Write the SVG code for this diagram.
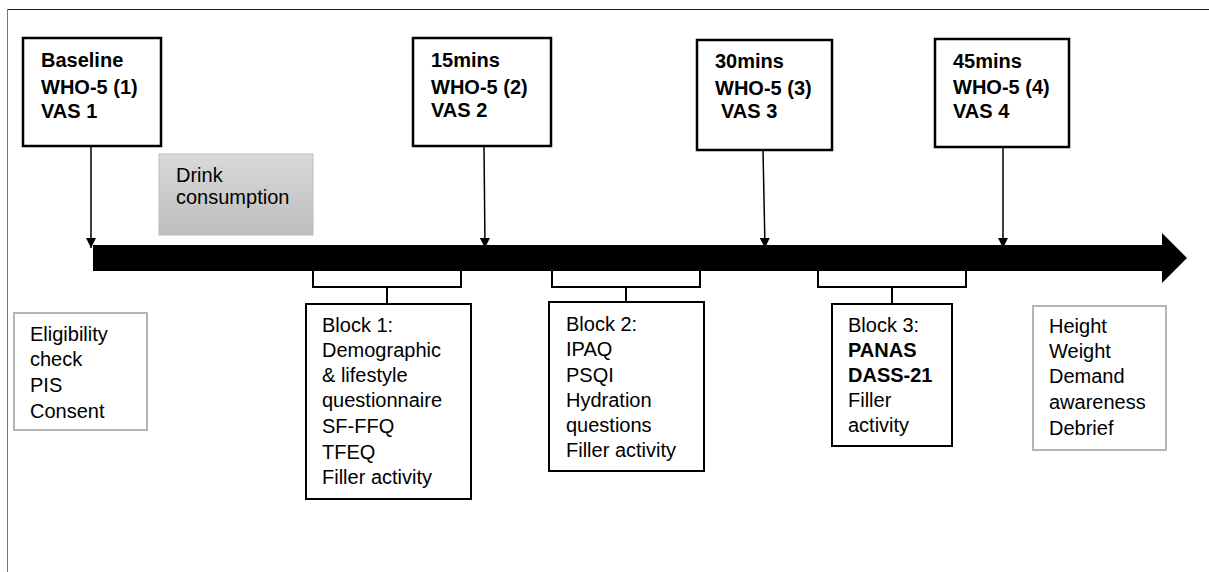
<svg xmlns="http://www.w3.org/2000/svg" width="1209" height="572" viewBox="0 0 1209 572">
  <style>
    text { font-family: "Liberation Sans", Arial, sans-serif; font-size: 20px; fill: #000; }
    .b { font-weight: bold; }
    .tp { fill: #fff; stroke: #000; stroke-width: 2.5; }
    .blk { fill: #fff; stroke: #000; stroke-width: 2; }
    .soft { fill: #fff; stroke: #b3b3b3; stroke-width: 2; }
    .conn { fill: none; stroke: #000; stroke-width: 1.5; }
    .brk { fill: none; stroke: #000; stroke-width: 2; }
  </style>
  <defs>
    <linearGradient id="grey" x1="0" y1="0" x2="0" y2="1">
      <stop offset="0" stop-color="#d9d9d9"/>
      <stop offset="1" stop-color="#bdbdbd"/>
    </linearGradient>
    <marker id="tip" viewBox="0 0 10 10" refX="10" refY="5" markerWidth="10" markerHeight="10" markerUnits="userSpaceOnUse" orient="auto">
      <path d="M0,0 L10,5 L0,10 Z" fill="#000"/>
    </marker>
  </defs>

  <rect width="1209" height="572" fill="#fff"/>
  <!-- page frame -->
  <line x1="7" y1="9.5" x2="1209" y2="9.5" stroke="#222" stroke-width="1"/>
  <line x1="7.5" y1="9" x2="7.5" y2="572" stroke="#777" stroke-width="1"/>

  <!-- timeline arrow -->
  <g id="timeline">
    <path d="M93,245 L1162,245 L1162,233 L1187,258 L1162,283 L1162,271 L93,271 Z" fill="#000"/>
  </g>

  <g id="connectors">
    <line class="conn" x1="91" y1="146" x2="91" y2="248" marker-end="url(#tip)"/>
    <line class="conn" x1="484" y1="146" x2="485" y2="248" marker-end="url(#tip)"/>
    <line class="conn" x1="763" y1="150" x2="765" y2="248" marker-end="url(#tip)"/>
    <line class="conn" x1="1003" y1="147" x2="1003" y2="248" marker-end="url(#tip)"/>
    <!-- brackets under the timeline -->
    <path class="brk" d="M313,271 V287 H461 V271 M387,287 V304"/>
    <path class="brk" d="M552,271 V287 H700 V271 M626,287 V302"/>
    <path class="brk" d="M818,271 V287 H966 V271 M892,287 V304"/>
  </g>

  <g id="baseline">
    <rect class="tp" x="23" y="38" width="138" height="108"/>
    <text class="b" x="41" y="67">Baseline</text>
    <text class="b" x="41" y="94">WHO-5 (1)</text>
    <text class="b" x="41" y="118">VAS 1</text>
  </g>

  <g id="t15">
    <rect class="tp" x="413" y="38" width="138" height="108"/>
    <text class="b" x="431" y="67">15mins</text>
    <text class="b" x="431" y="94">WHO-5 (2)</text>
    <text class="b" x="431" y="117">VAS 2</text>
  </g>

  <g id="t30">
    <rect class="tp" x="697" y="40" width="135" height="110"/>
    <text class="b" x="715" y="68">30mins</text>
    <text class="b" x="715" y="95">WHO-5 (3)</text>
    <text class="b" x="721" y="118">VAS 3</text>
  </g>

  <g id="t45">
    <rect class="tp" x="935" y="39" width="134" height="108"/>
    <text class="b" x="953" y="68">45mins</text>
    <text class="b" x="953" y="94">WHO-5 (4)</text>
    <text class="b" x="953" y="118">VAS 4</text>
  </g>

  <g id="drink">
    <rect x="159" y="154" width="154" height="81" fill="url(#grey)" stroke="#bdbdbd" stroke-width="1"/>
    <text x="176" y="182">Drink</text>
    <text x="176" y="204">consumption</text>
  </g>

  <g id="eligibility">
    <rect class="soft" x="14" y="313" width="133" height="117"/>
    <text x="30" y="341">Eligibility</text>
    <text x="30" y="366">check</text>
    <text x="30" y="392">PIS</text>
    <text x="30" y="418">Consent</text>
  </g>

  <g id="block1">
    <rect class="blk" x="306" y="304" width="165" height="195"/>
    <text x="322" y="332">Block 1:</text>
    <text x="322" y="357">Demographic</text>
    <text x="322" y="382">&amp; lifestyle</text>
    <text x="322" y="407">questionnaire</text>
    <text x="322" y="433">SF-FFQ</text>
    <text x="322" y="459">TFEQ</text>
    <text x="322" y="484">Filler activity</text>
  </g>

  <g id="block2">
    <rect class="blk" x="549" y="302" width="155" height="169"/>
    <text x="566" y="331">Block 2:</text>
    <text x="566" y="356">IPAQ</text>
    <text x="566" y="382">PSQI</text>
    <text x="566" y="407">Hydration</text>
    <text x="566" y="432">questions</text>
    <text x="566" y="457">Filler activity</text>
  </g>

  <g id="block3">
    <rect class="blk" x="832" y="304" width="120" height="142"/>
    <text x="848" y="332">Block 3:</text>
    <text class="b" x="848" y="357">PANAS</text>
    <text class="b" x="848" y="382">DASS-21</text>
    <text x="848" y="407">Filler</text>
    <text x="848" y="432">activity</text>
  </g>

  <g id="closing">
    <rect class="soft" x="1033" y="306" width="133" height="144"/>
    <text x="1049" y="333">Height</text>
    <text x="1049" y="358">Weight</text>
    <text x="1049" y="383">Demand</text>
    <text x="1049" y="409">awareness</text>
    <text x="1049" y="435">Debrief</text>
  </g>
</svg>
